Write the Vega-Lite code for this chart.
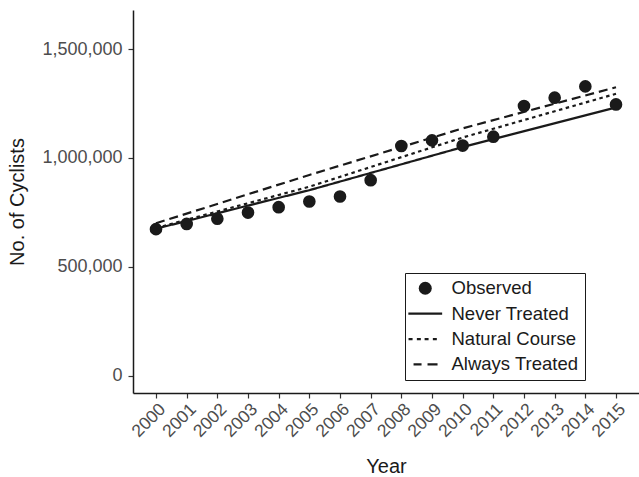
{
  "$schema": "https://vega.github.io/schema/vega-lite/v6.json",
  "width": 506,
  "height": 383,
  "autosize": {"type": "none"},
  "padding": {"left": 133, "top": 10, "right": 0, "bottom": 84},
  "background": "white",
  "config": {
    "view": {"stroke": null},
    "font": "Liberation Sans",
    "axis": {
      "grid": false,
      "domainColor": "#1a1a1a",
      "domainWidth": 1.5,
      "tickColor": "#333333",
      "tickWidth": 1.2,
      "tickSize": 5,
      "labelColor": "#4d4d4d",
      "labelFontSize": 18,
      "labelFont": "Liberation Sans",
      "titleFont": "Liberation Sans",
      "titleFontSize": 20,
      "titleFontWeight": "normal",
      "titleColor": "#1a1a1a"
    },
    "axisX": {"labelOverlap": false, "labelFontSize": 17.5},
    "legend": {
      "orient": "none",
      "legendX": 272,
      "legendY": 263,
      "strokeColor": "#1a1a1a",
      "padding": 6,
      "symbolSize": 169,
      "symbolOffset": 5,
      "symbolStrokeWidth": 0,
      "symbolFillColor": "#1a1a1a",
      "labelFontSize": 18.5,
      "labelFont": "Liberation Sans",
      "labelColor": "#1a1a1a",
      "labelOffset": 17,
      "rowPadding": 6.4
    }
  },
  "datasets": {
    "observed": [
      {"series": "Observed", "year": 2000, "cyclists": 673000},
      {"series": "Observed", "year": 2001, "cyclists": 697000},
      {"series": "Observed", "year": 2002, "cyclists": 721000},
      {"series": "Observed", "year": 2003, "cyclists": 749000},
      {"series": "Observed", "year": 2004, "cyclists": 774000},
      {"series": "Observed", "year": 2005, "cyclists": 800000},
      {"series": "Observed", "year": 2006, "cyclists": 823000},
      {"series": "Observed", "year": 2007, "cyclists": 898000},
      {"series": "Observed", "year": 2008, "cyclists": 1055000},
      {"series": "Observed", "year": 2009, "cyclists": 1081000},
      {"series": "Observed", "year": 2010, "cyclists": 1057000},
      {"series": "Observed", "year": 2011, "cyclists": 1098000},
      {"series": "Observed", "year": 2012, "cyclists": 1239000},
      {"series": "Observed", "year": 2013, "cyclists": 1277000},
      {"series": "Observed", "year": 2014, "cyclists": 1329000},
      {"series": "Observed", "year": 2015, "cyclists": 1246000}
    ],
    "models": [
      {"series": "Never Treated", "year": 2000, "cyclists": 675000},
      {"series": "Never Treated", "year": 2005, "cyclists": 852000},
      {"series": "Never Treated", "year": 2010, "cyclists": 1050000},
      {"series": "Never Treated", "year": 2015, "cyclists": 1232000},
      {"series": "Natural Course", "year": 2000, "cyclists": 678000},
      {"series": "Natural Course", "year": 2005, "cyclists": 868000},
      {"series": "Natural Course", "year": 2010, "cyclists": 1094000},
      {"series": "Natural Course", "year": 2015, "cyclists": 1295000},
      {"series": "Always Treated", "year": 2000, "cyclists": 700000},
      {"series": "Always Treated", "year": 2005, "cyclists": 922000},
      {"series": "Always Treated", "year": 2010, "cyclists": 1136000},
      {"series": "Always Treated", "year": 2015, "cyclists": 1325000}
    ]
  },
  "layer": [
    {
      "data": {"name": "models"},
      "mark": {"type": "line", "strokeWidth": 2.2, "color": "#1a1a1a"},
      "encoding": {
        "x": {
          "field": "year",
          "type": "quantitative",
          "scale": {"domain": [1999.25, 2015.75], "nice": false, "zero": false},
          "axis": {
            "values": [2000, 2001, 2002, 2003, 2004, 2005, 2006, 2007, 2008, 2009, 2010, 2011, 2012, 2013, 2014, 2015],
            "tickCount": 16,
            "format": "d",
            "labelAngle": -45,
            "labelPadding": 2,
            "labelOverlap": false,
            "title": "Year",
            "titlePadding": 17
          }
        },
        "y": {
          "field": "cyclists",
          "type": "quantitative",
          "scale": {"domain": [-80000, 1680000], "nice": false, "zero": false},
          "axis": {
            "values": [0, 500000, 1000000, 1500000],
            "format": ",d",
            "labelPadding": 6,
            "title": "No. of Cyclists",
            "titlePadding": 14
          }
        },
        "strokeDash": {
          "field": "series",
          "type": "nominal",
          "legend": null,
          "scale": {
            "domain": ["Never Treated", "Natural Course", "Always Treated"],
            "range": [[1, 0], [3.5, 3.5], [9, 5]]
          }
        }
      }
    },
    {
      "data": {"name": "observed"},
      "mark": {"type": "point", "filled": true, "size": 160, "fill": "#1a1a1a", "opacity": 1},
      "encoding": {
        "x": {
          "field": "year",
          "type": "quantitative",
          "axis": {
            "values": [2000, 2001, 2002, 2003, 2004, 2005, 2006, 2007, 2008, 2009, 2010, 2011, 2012, 2013, 2014, 2015],
            "tickCount": 16,
            "format": "d",
            "labelAngle": -45,
            "labelPadding": 2,
            "labelOverlap": false,
            "title": "Year",
            "titlePadding": 17
          }
        },
        "y": {"field": "cyclists", "type": "quantitative"},
        "shape": {
          "field": "series",
          "type": "nominal",
          "title": null,
          "scale": {
            "domain": ["Observed", "Never Treated", "Natural Course", "Always Treated"],
            "range": [
              "circle",
              "M-2.6,-0.17H2.6V0.17H-2.6Z",
              "M-2.57,-0.17H-1.95V0.17H-2.57ZM-1.29,-0.17H-0.68V0.17H-1.29ZM-0.1,-0.17H0.51V0.17H-0.1ZM1.17,-0.17H1.78V0.17H1.17Z",
              "M-1.8,-0.17H-0.57V0.17H-1.8ZM0.35,-0.17H1.89V0.17H0.35Z"
            ]
          }
        }
      }
    }
  ]
}
